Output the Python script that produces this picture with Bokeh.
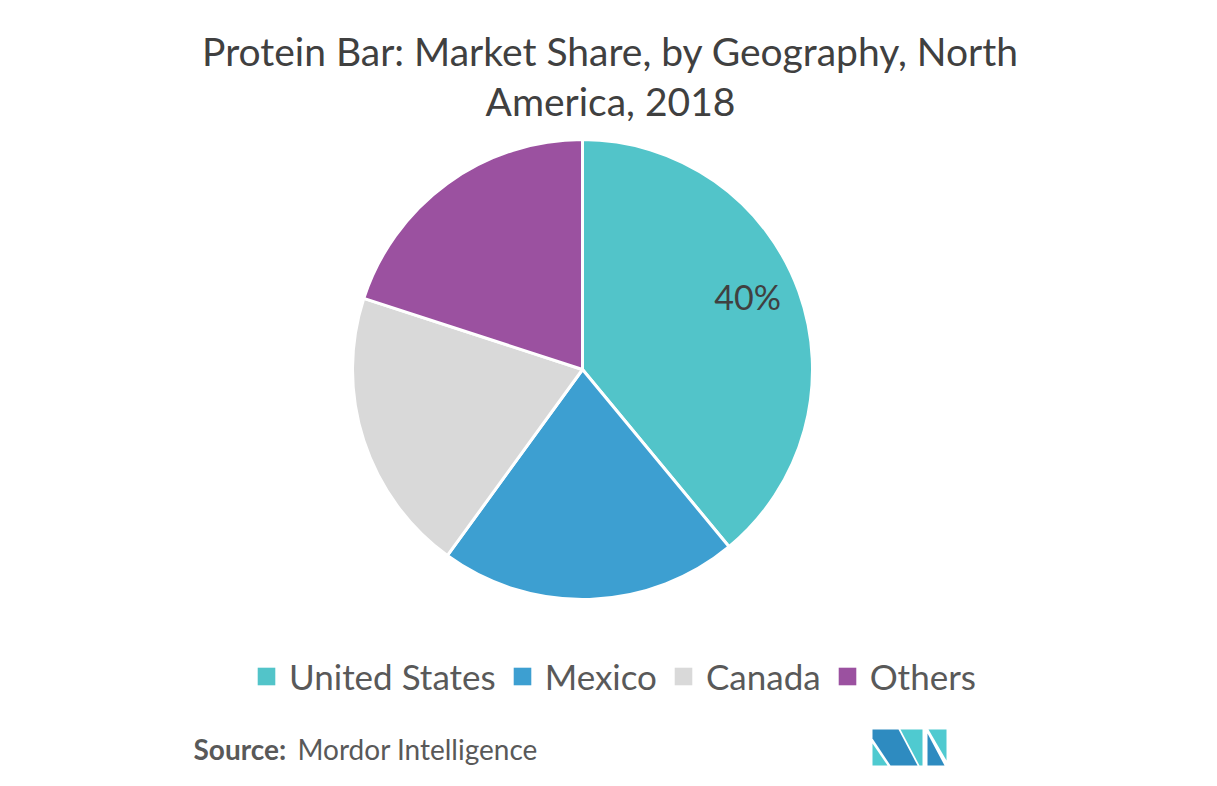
import numpy as np
from bokeh.plotting import figure
from bokeh.models import Range1d, Legend, LegendItem, ColumnDataSource
from bokeh.core.properties import value
from bokeh.embed import file_html
from bokeh.resources import INLINE

# ---- data ----
categories = ["United States", "Mexico", "Canada", "Others"]
shares = [39, 21, 20, 20]
colors = ["#52c4c9", "#3d9fd1", "#d9d9d9", "#9b51a0"]
slice_labels = ["40%", "", "", ""]
title_lines = ["Protein Bar: Market Share, by Geography, North", "America, 2018"]
source_bold = "Source:"
source_text = "Mordor Intelligence"

# ---- layout ----
W, H = 1209, 778
FONT = "Lato"


def sx(x):  # image px -> figure x
    return x


def sy(y):  # image px -> figure y
    return H - y


p = figure(width=W, height=H, x_range=Range1d(0, W), y_range=Range1d(0, H),
           output_backend="svg", toolbar_location=None, min_border=0,
           x_axis_location=None, y_axis_location=None)
p.grid.visible = False
p.outline_line_color = None
p.background_fill_color = "white"

# ---- pie ----
cx, cy, R = sx(582), sy(369), 230
frac = np.array(shares, dtype=float) / sum(shares)
cum = np.concatenate([[0.0], np.cumsum(frac)]) * 2 * np.pi
start = np.pi / 2 - cum[:-1]
end = np.pi / 2 - cum[1:]
mid = (cum[:-1] + cum[1:]) / 2

pie_src = ColumnDataSource(dict(cat=categories, start=start, end=end, color=colors))
p.wedge(x=cx, y=cy, radius=R, start_angle="start", end_angle="end", direction="clock",
        fill_color="color", line_color="white", line_width=3, source=pie_src)

lab_src = ColumnDataSource(dict(
    x=cx + 0.74 * R * np.sin(mid),
    y=cy + 0.74 * R * np.cos(mid),
    text=slice_labels))
p.text(x="x", y="y", text="text", source=lab_src, text_align="center",
       text_baseline="alphabetic", text_font=value(FONT), text_font_size="34px",
       text_color="#404040", x_offset=5, y_offset=-15)

# ---- legend (offscreen rect renderers for square swatches) ----
leg_src = ColumnDataSource(dict(x=[-1000] * 4, y=[-1000] * 4, color=colors))
leg_r = p.rect(x="x", y="y", width=1, height=1, fill_color="color", line_color=None,
               source=leg_src)
items = [LegendItem(label=c, renderers=[leg_r], index=i) for i, c in enumerate(categories)]
legend = Legend(items=items, orientation="horizontal", location=(sx(255), sy(697)),
                label_text_font=FONT, label_text_font_size="35px",
                label_text_color="#595959", glyph_width=22, glyph_height=22,
                label_standoff=12, spacing=15, padding=0, margin=0,
                border_line_color=None, background_fill_alpha=0)
p.add_layout(legend, "center")

# ---- title ----
p.text(x=[sx(610)] * 2, y=[sy(66), sy(116)], text=title_lines, text_align="center",
       text_baseline="alphabetic", text_font=value(FONT), text_font_size="39px",
       text_color="#404040", y_offset=-16)

# ---- source ----
p.text(x=[sx(193)], y=[sy(757)], text=[source_bold], text_align="left",
       text_baseline="alphabetic", text_font=value(FONT), text_font_size="28px",
       text_font_style="bold", text_color="#595959", y_offset=-9)
p.text(x=[sx(297)], y=[sy(757)], text=[source_text], text_align="left",
       text_baseline="alphabetic", text_font=value(FONT), text_font_size="28px",
       text_color="#595959", y_offset=-9)

# ---- logo ----
logo_dark, logo_teal = "#2e8bc0", "#4fcad0"
logo_polys = [
    ([872, 872, 887], [743, 765, 765], logo_teal),
    ([872, 898, 917, 890, 872], [729, 729, 765, 765, 738], logo_dark),
    ([900, 922, 922, 919], [729, 729, 765, 765], logo_teal),
    ([928, 946, 946], [729, 729, 760], logo_teal),
    ([927, 944, 927], [733, 765, 765], logo_dark),
]
p.patches(xs=[[sx(v) for v in xs] for xs, _, _ in logo_polys],
          ys=[[sy(v) for v in ys] for _, ys, _ in logo_polys],
          fill_color=[c for _, _, c in logo_polys], line_color=None)

open("out.html", "w").write(file_html(p, INLINE))
